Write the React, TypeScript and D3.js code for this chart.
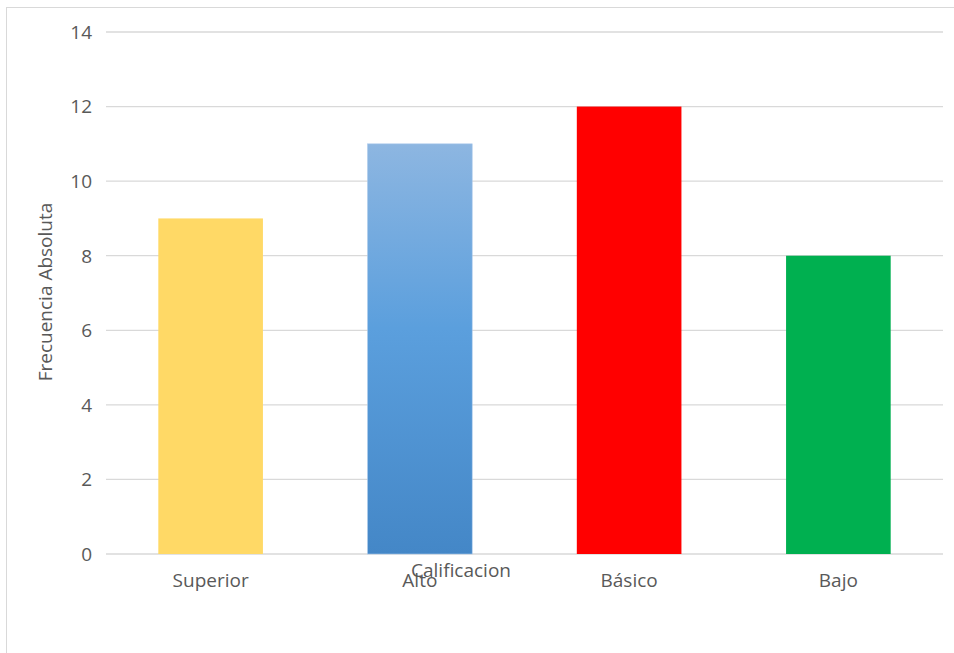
import React from "react";
import * as d3 from "d3";

const categories = ["Superior", "Alto", "Básico", "Bajo"];
const values = [9, 11, 12, 8];
const yTicks = [0, 2, 4, 6, 8, 10, 12, 14];
const xTitle = "Calificacion";
const yTitle = "Frecuencia Absoluta";

const W = 954;
const H = 653;
const left = 106;
const right = 943;
const top = 32;
const bottom = 554;

export default function App() {
  const x = d3.scaleBand<string>().domain(categories).range([left, right]).paddingInner(0.5).paddingOuter(0.25);
  const y = d3.scaleLinear().domain([0, 14]).range([bottom, top]);
  const fills = ["#FFD966", "url(#blueGrad)", "#FF0000", "#00B050"];
  const font = "'Open Sans', sans-serif";
  const fs = 19;
  const textColor = "#595959";
  return (
    <svg width={W} height={H} style={{ position: "absolute", left: 0, top: 0, background: "#fff" }}>
      <defs>
        <linearGradient id="blueGrad" x1="0" y1="0" x2="0" y2="1">
          <stop offset="0" stopColor="#8DB6E1" />
          <stop offset="0.45" stopColor="#5B9FDD" />
          <stop offset="1" stopColor="#4487C7" />
        </linearGradient>
      </defs>
      <rect x={6.5} y={7.5} width={W + 10} height={H + 10} fill="#fff" stroke="#D9D9D9" strokeWidth={1} />
      {yTicks.map((t) => (
        <g key={t}>
          <line x1={left} x2={right} y1={y(t)} y2={y(t)} stroke="#D9D9D9" strokeWidth={1.3} />
          <text x={92} y={y(t)} dy="0.36em" textAnchor="end" fontFamily={font} fontSize={fs} fill={textColor}>
            {t}
          </text>
        </g>
      ))}
      {categories.map((c, i) => (
        <g key={c}>
          <rect
            x={x(c)!}
            y={y(values[i])}
            width={x.bandwidth()}
            height={y(0) - y(values[i])}
            fill={fills[i]}
            stroke={i === 1 ? "#A9C8EA" : "none"}
            strokeWidth={i === 1 ? 0.6 : 0}
          />
          <text
            x={x(c)! + x.bandwidth() / 2}
            y={587}
            textAnchor="middle"
            fontFamily={font}
            fontSize={fs}
            fill={textColor}
          >
            {c}
          </text>
        </g>
      ))}
      <text x={461} y={577} textAnchor="middle" fontFamily={font} fontSize={fs} fill={textColor}>
        {xTitle}
      </text>
      <text
        transform={`translate(52, 292) rotate(-90)`}
        textAnchor="middle"
        fontFamily={font}
        fontSize={fs}
        fill={textColor}
      >
        {yTitle}
      </text>
    </svg>
  );
}
